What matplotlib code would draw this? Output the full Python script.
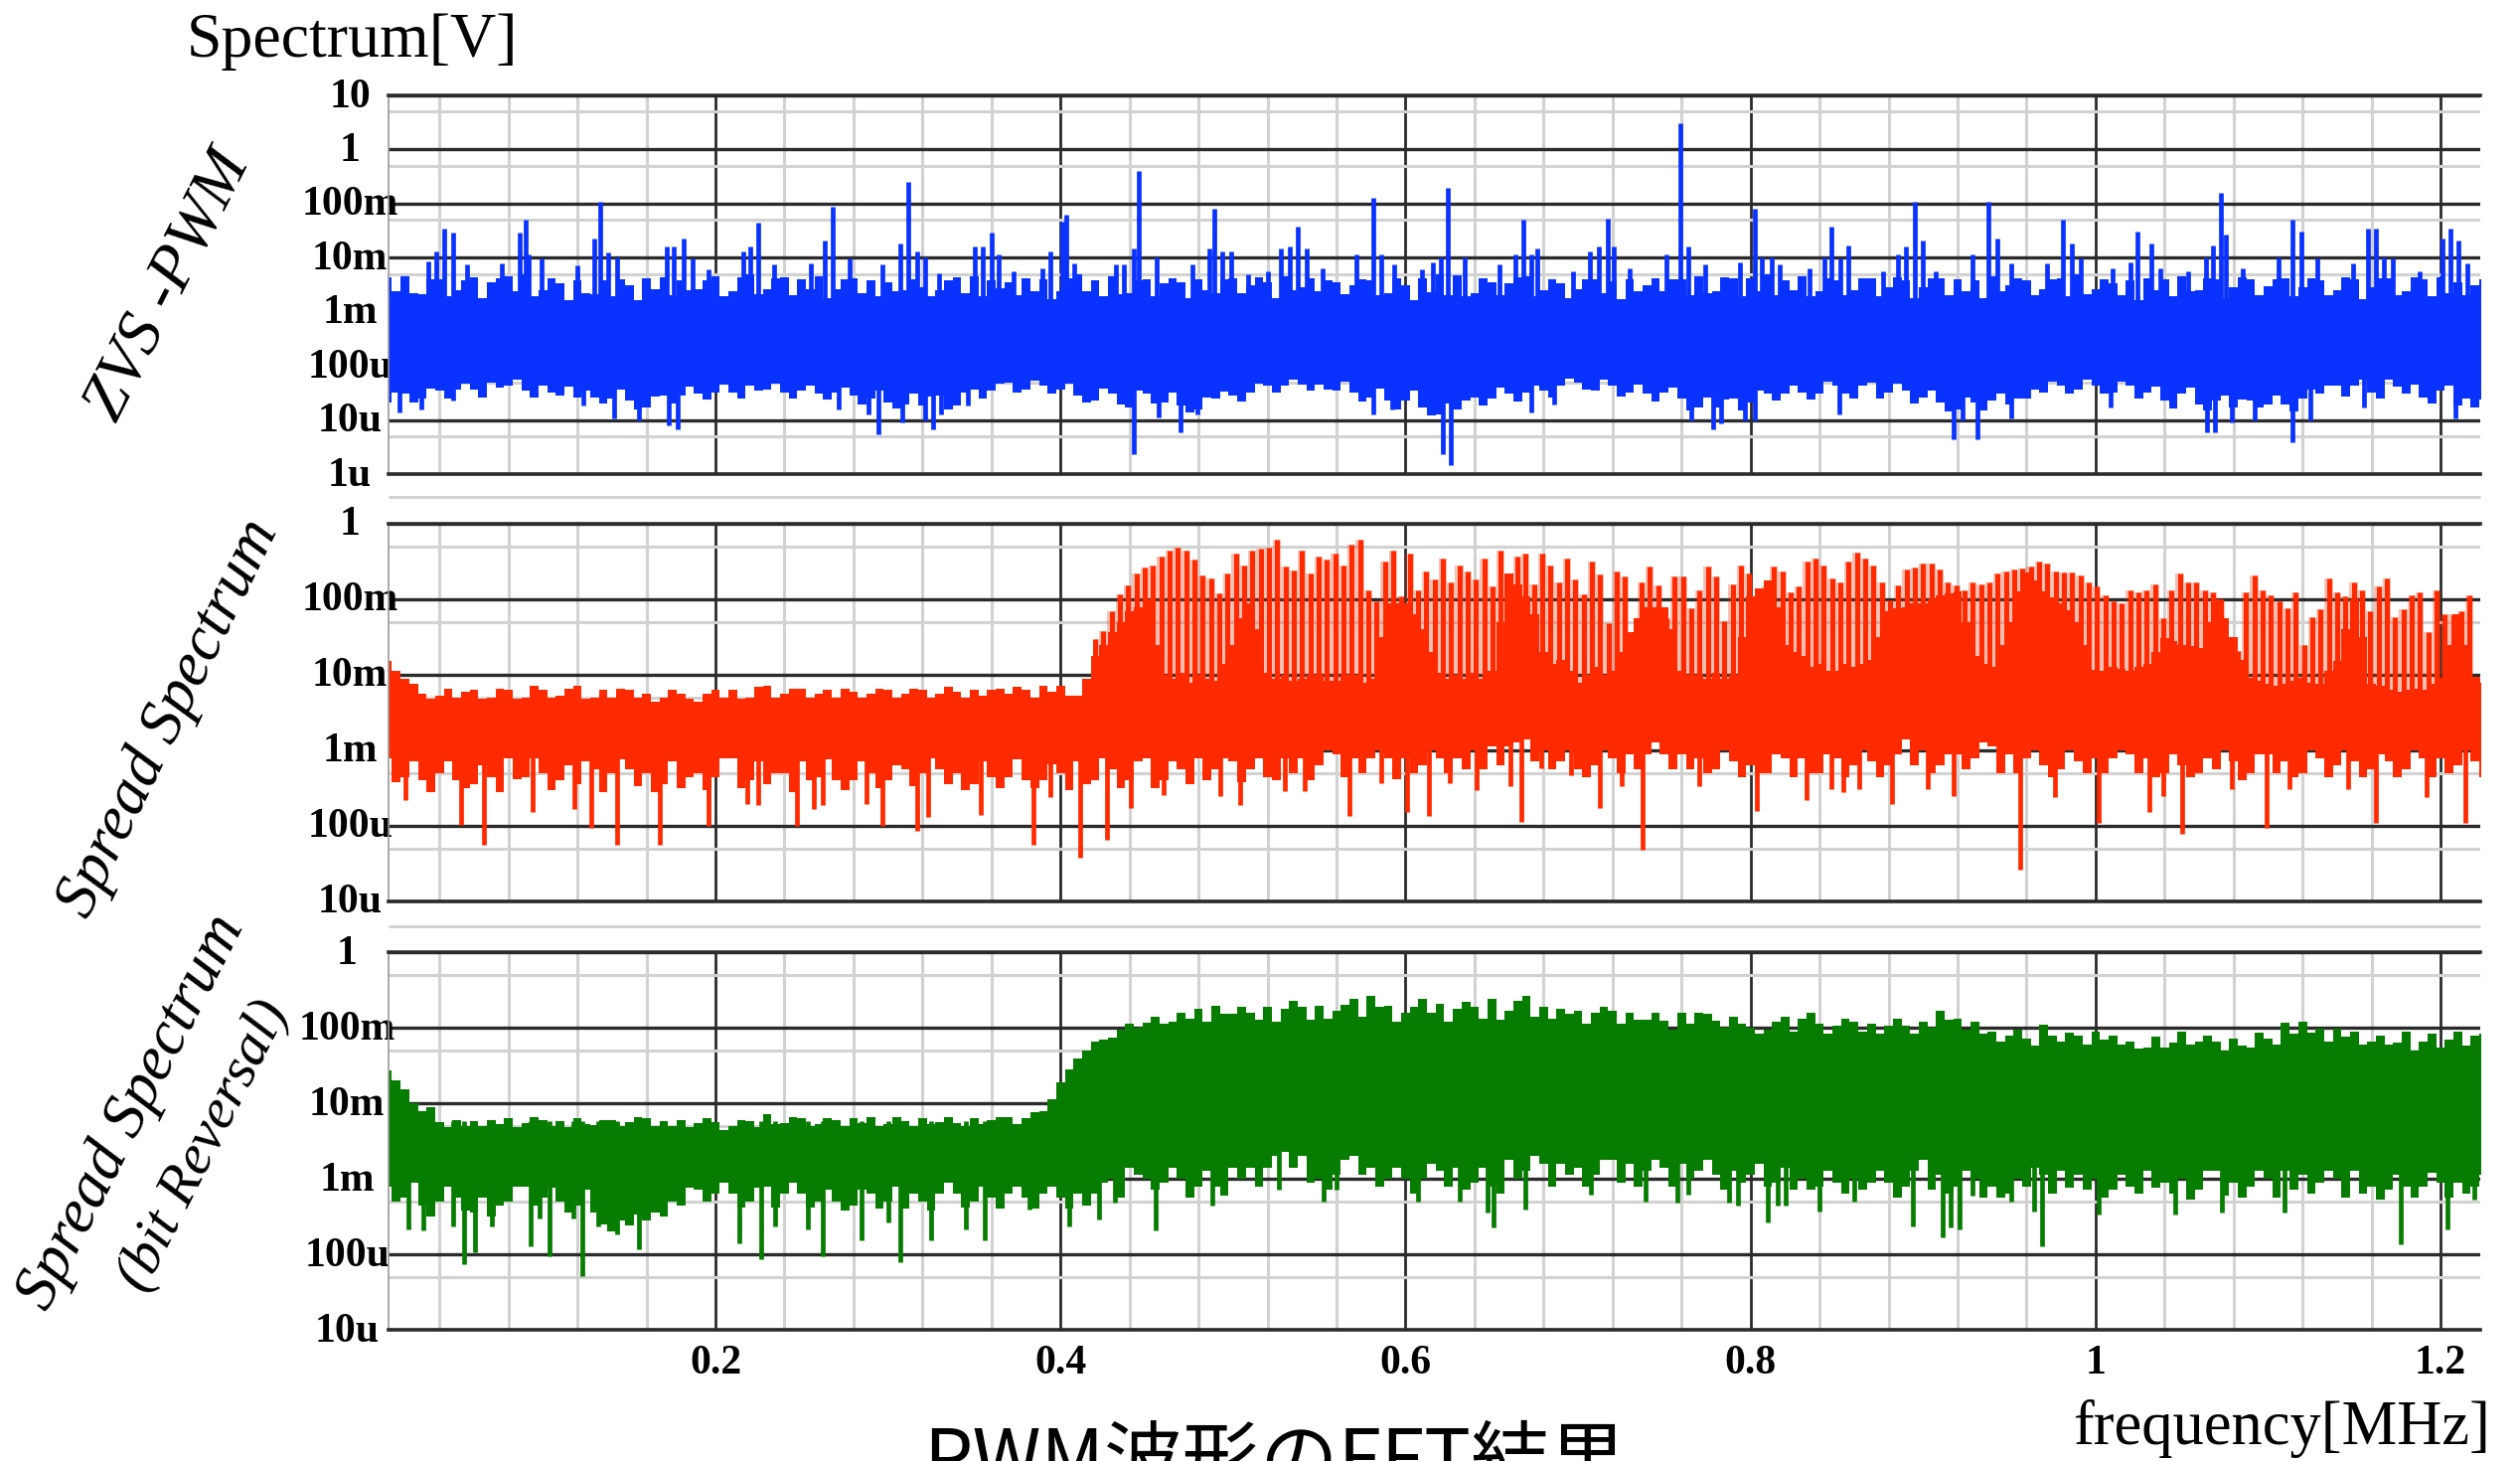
import matplotlib
matplotlib.use('Agg')
import matplotlib.pyplot as plt
import matplotlib.transforms as mtransforms
import numpy as np

# all levels are log10 of volts
bin_freq = np.arange(1, 123) / 100.0

zvs_top = [
    -2.37, -2.34, -2.68, -2.40, -2.60, -2.37, -2.45, -2.34, -2.30, -2.60,
    -2.47, -2.42, -2.68, -2.72, -2.50, -2.38, -2.36, -2.42, -2.58, -2.35,
    -2.62, -2.30, -2.58, -2.36, -2.40, -2.35, -2.58, -2.38, -2.42, -2.45,
    -2.60, -2.55, -2.60, -2.36, -2.35, -2.42, -2.45, -2.38, -2.40, -2.62,
    -2.30, -2.42, -2.34, -2.65, -2.40, -2.48, -2.45, -2.40, -2.66, -2.38,
    -2.50, -2.45, -2.35, -2.55, -2.62, -2.45, -2.50, -2.42, -2.65, -2.50,
    -2.38, -2.30, -2.32, -2.65, -2.45, -2.48, -2.35, -2.60, -2.48, -2.58,
    -2.40, -2.44, -2.40, -2.50, -2.62, -2.40, -2.35, -2.62, -2.38, -2.38,
    -2.30, -2.42, -2.35, -2.62, -2.42, -2.60, -2.38, -2.55, -2.42, -2.55,
    -2.38, -2.40, -2.42, -2.35, -2.50, -2.42, -2.58, -2.38, -2.30, -2.58,
    -2.48, -2.42, -2.38, -2.40, -2.35, -2.60, -2.40, -2.55, -2.40, -2.52,
    -2.38, -2.55, -2.42, -2.60, -2.40, -2.55, -2.38, -2.62, -2.40, -2.36,
    -2.45, -2.50,
]
zvs_top_mid = [
    -2.62, -2.66, -2.40, -2.72, -2.42, -2.75, -2.38, -2.62, -2.72, -2.38,
    -2.78, -2.66, -2.42, -2.40, -2.78, -2.58, -2.70, -2.60, -2.42, -2.72,
    -2.36, -2.68, -2.38, -2.70, -2.58, -2.74, -2.40, -2.66, -2.72, -2.62,
    -2.40, -2.72, -2.42, -2.66, -2.72, -2.56, -2.70, -2.62, -2.76, -2.38,
    -2.62, -2.72, -2.68, -2.42, -2.72, -2.38, -2.74, -2.60, -2.40, -2.66,
    -2.36, -2.74, -2.60, -2.38, -2.42, -2.68, -2.40, -2.70, -2.38, -2.78,
    -2.64, -2.70, -2.72, -2.38, -2.70, -2.36, -2.72, -2.40, -2.74, -2.40,
    -2.66, -2.76, -2.62, -2.38, -2.40, -2.70, -2.66, -2.36, -2.72, -2.62,
    -2.70, -2.60, -2.72, -2.38, -2.70, -2.38, -2.72, -2.36, -2.74, -2.38,
    -2.70, -2.62, -2.74, -2.62, -2.38, -2.70, -2.40, -2.72, -2.68, -2.40,
    -2.70, -2.78, -2.60, -2.72, -2.62, -2.38, -2.74, -2.36, -2.70, -2.40,
    -2.72, -2.38, -2.70, -2.36, -2.76, -2.38, -2.70, -2.36, -2.72, -2.66,
    -2.70, -2.40,
]
zvs_bottom = [
    -4.67, -4.52, -4.61, -4.46, -4.43, -4.43, -4.31, -4.37, -4.46, -4.37,
    -4.55, -4.58, -4.58, -4.61, -4.64, -4.77, -4.55, -4.55, -4.52, -4.49,
    -4.49, -4.37, -4.43, -4.49, -4.46, -4.52, -4.49, -4.55, -4.61, -4.67,
    -4.71, -4.74, -4.55, -4.74, -4.43, -4.46, -4.31, -4.43, -4.37, -4.43,
    -4.55, -4.64, -4.52, -4.77, -4.52, -4.67, -4.74, -4.80, -4.61, -4.55,
    -4.49, -4.37, -4.37, -4.34, -4.34, -4.46, -4.49, -4.58, -4.64, -4.64,
    -4.77, -4.89, -4.80, -4.58, -4.61, -4.52, -4.49, -4.46, -4.37, -4.31,
    -4.46, -4.37, -4.49, -4.52, -4.49, -4.61, -4.77, -4.77, -4.61, -4.67,
    -4.52, -4.52, -4.49, -4.52, -4.37, -4.61, -4.31, -4.49, -4.46, -4.58,
    -4.67, -4.80, -4.67, -4.64, -4.71, -4.61, -4.49, -4.37, -4.43, -4.37,
    -4.49, -4.37, -4.49, -4.64, -4.52, -4.71, -4.64, -4.77, -4.64, -4.71,
    -4.71, -4.61, -4.52, -4.37, -4.37, -4.49, -4.25, -4.52, -4.58, -4.46,
    -4.74, -4.77,
]
zvs_bottom_mid = [
    -4.50, -4.68, -4.42, -4.60, -4.32, -4.58, -4.40, -4.26, -4.58, -4.50,
    -4.38, -4.46, -4.70, -4.44, -4.80, -4.56, -4.70, -4.38, -4.62, -4.34,
    -4.60, -4.46, -4.32, -4.60, -4.36, -4.62, -4.40, -4.72, -4.46, -4.78,
    -4.52, -4.56, -4.80, -4.50, -4.60, -4.32, -4.50, -4.28, -4.52, -4.32,
    -4.68, -4.42, -4.72, -4.46, -4.70, -4.50, -4.86, -4.58, -4.48, -4.66,
    -4.32, -4.50, -4.26, -4.46, -4.44, -4.30, -4.66, -4.42, -4.80, -4.46,
    -4.92, -4.70, -4.64, -4.74, -4.40, -4.66, -4.36, -4.58, -4.24, -4.44,
    -4.26, -4.56, -4.34, -4.66, -4.40, -4.82, -4.58, -4.62, -4.82, -4.46,
    -4.64, -4.36, -4.62, -4.30, -4.52, -4.36, -4.60, -4.32, -4.70, -4.46,
    -4.84, -4.58, -4.82, -4.52, -4.60, -4.44, -4.30, -4.52, -4.26, -4.52,
    -4.30, -4.60, -4.38, -4.78, -4.40, -4.82, -4.54, -4.62, -4.76, -4.54,
    -4.84, -4.44, -4.36, -4.56, -4.26, -4.60, -4.38, -4.34, -4.70, -4.36,
    -4.60, -4.62,
]
zvs_peak_freq = [
    0.0336, 0.038, 0.0428, 0.048, 0.056, 0.0764, 0.0864, 0.0898, 0.0917, 0.099,
    0.120, 0.130, 0.1332, 0.138, 0.143, 0.172, 0.176, 0.1815, 0.187, 0.196,
    0.216, 0.220, 0.225, 0.234, 0.2555, 0.2634, 0.268, 0.278, 0.297, 0.307,
    0.312, 0.3168, 0.3215, 0.3295, 0.3506, 0.355, 0.360, 0.364, 0.373, 0.3894,
    0.394, 0.4008, 0.4034, 0.408, 0.4323, 0.437, 0.4424, 0.4456, 0.4556, 0.4763,
    0.486, 0.4893, 0.494, 0.4988, 0.5086, 0.5205, 0.5277, 0.533, 0.5375, 0.543,
    0.5518, 0.5714, 0.5815, 0.586, 0.5934, 0.6093, 0.616, 0.6207, 0.6246, 0.6344,
    0.6543, 0.6636, 0.6683, 0.673, 0.6763, 0.697, 0.7068, 0.7118, 0.717, 0.7205,
    0.7298, 0.751, 0.7595, 0.7637, 0.7735, 0.794, 0.8024, 0.8066, 0.8125, 0.817,
    0.834, 0.843, 0.847, 0.852, 0.8568, 0.877, 0.8857, 0.89, 0.8951, 0.8996,
    0.9075, 0.9285, 0.938, 0.943, 0.951, 0.972, 0.981, 0.9863, 0.9916, 1.01,
    1.0205, 1.0244, 1.0323, 1.0376, 1.0534, 1.0639, 1.0678, 1.0725, 1.0757, 1.0854,
    1.106, 1.1143, 1.1196, 1.1288, 1.1493, 1.1577, 1.1624, 1.167, 1.1724, 1.188,
    1.201, 1.2058, 1.2105, 1.2155,
]
zvs_peak_level = [
    -2.07, -1.88, -1.47, -1.53, -2.13, -2.10, -1.53, -1.30, -1.94, -2.02,
    -2.14, -1.64, -0.96, -1.90, -2.00, -1.79, -1.79, -1.64, -2.02, -2.22,
    -1.88, -1.79, -1.36, -2.13, -2.10, -1.68, -1.06, -2.02, -2.13, -1.74,
    -0.60, -1.88, -2.00, -2.28, -1.79, -1.79, -1.53, -1.94, -2.25, -2.19,
    -1.88, -1.33, -1.21, -2.10, -2.13, -2.13, -1.83, -0.39, -2.00, -2.13,
    -1.83, -1.10, -1.88, -1.88, -2.31, -2.25, -1.83, -1.79, -1.42, -1.83,
    -2.19, -1.94, -0.90, -1.94, -2.13, -2.22, -2.08, -2.00, -0.70, -2.00,
    -2.13, -1.94, -1.30, -1.94, -1.83, -2.25, -1.88, -1.79, -1.27, -1.79,
    -2.19, -1.94, 0.48, -1.79, -2.13, -2.08, -1.10, -2.00, -2.00, -2.13,
    -2.19, -2.00, -1.42, -2.02, -1.78, -2.25, -1.94, -1.79, -0.96, -1.68,
    -2.25, -1.94, -0.96, -1.64, -2.10, -2.10, -1.30, -1.73, -2.02, -2.19,
    -2.08, -1.52, -1.73, -2.19, -2.25, -2.00, -1.78, -0.80, -1.58, -2.19,
    -2.00, -1.30, -1.52, -2.02, -2.10, -1.47, -1.47, -2.00, -2.02, -2.25,
    -1.64, -1.47, -1.68, -2.10,
]
zvs_dip_freq = [
    0.0169, 0.0296, 0.048, 0.1234, 0.141, 0.1556, 0.173, 0.178, 0.2713, 0.2885,
    0.2943, 0.3083, 0.3215, 0.3263, 0.3308, 0.3466, 0.4424, 0.457, 0.4697, 0.4795,
    0.5815, 0.592, 0.6217, 0.6265, 0.6728, 0.686, 0.7656, 0.7783, 0.783, 0.797,
    0.8026, 0.8515, 0.9175, 0.9227, 0.9317, 0.951, 1.0087, 1.0647, 1.0691, 1.0788,
    1.092, 1.1143, 1.1243, 1.1558, 1.2084,
]
zvs_dip_level = [
    -4.86, -4.80, -4.64, -4.74, -4.97, -5.00, -5.10, -5.17, -4.80, -4.89,
    -5.27, -5.04, -5.00, -5.17, -4.89, -4.74, -5.63, -4.95, -5.23, -4.89,
    -4.89, -4.80, -5.63, -5.84, -4.86, -4.71, -5.01, -5.17, -5.07, -5.01,
    -5.01, -4.89, -5.35, -5.00, -5.35, -4.98, -4.77, -5.23, -5.23, -5.04,
    -5.00, -5.41, -5.00, -4.77, -4.98,
]

spread_top = [
    -1.82, -2.05, -2.25, -2.28, -2.30, -2.20, -2.30, -2.20, -2.30, -2.20,
    -2.28, -2.15, -2.30, -2.30, -2.20, -2.25, -2.30, -2.25, -2.35, -2.20,
    -2.20, -2.30, -2.15, -2.25, -2.18, -2.25, -2.30, -2.22, -2.25, -2.20,
    -2.25, -2.20, -2.25, -2.22, -2.20, -2.20, -2.25, -2.20, -2.15, -2.15,
    -2.28, -1.75, -1.44, -1.16, -1.00, -2.00, -1.98, -2.00, -2.08, -1.60,
    -1.05, -1.98, -2.00, -2.05, -2.00, -2.08, -2.00, -2.05, -1.05, -1.05,
    -1.40, -1.98, -2.00, -1.98, -1.95, -0.66, -0.96, -1.70, -1.80, -2.10,
    -1.90, -1.95, -1.44, -1.10, -1.10, -1.95, -2.00, -1.98, -2.00, -0.96,
    -0.75, -1.60, -1.75, -1.85, -1.95, -1.90, -1.80, -1.16, -1.10, -1.05,
    -0.95, -0.90, -1.75, -1.90, -1.30, -0.64, -0.90, -1.05, -1.30, -1.93,
    -1.90, -1.95, -1.85, -1.51, -1.60, -1.65, -1.00, -1.50, -2.04, -2.12,
    -2.12, -2.04, -2.12, -1.82, -1.00, -2.12, -2.20, -2.20, -2.20, -2.04,
    -1.20, -2.02,
]
spread_top_mid = [
    -1.95, -2.12, -2.32, -2.18, -2.22, -2.32, -2.18, -2.32, -2.15, -2.30,
    -2.18, -2.32, -2.20, -2.18, -2.30, -2.36, -2.20, -2.32, -2.25, -2.30,
    -2.32, -2.16, -2.30, -2.18, -2.30, -2.20, -2.18, -2.30, -2.18, -2.30,
    -2.18, -2.30, -2.16, -2.30, -2.28, -2.18, -2.16, -2.30, -2.22, -2.28,
    -2.05, -1.60, -1.30, -1.10, -1.60, -2.05, -2.10, -2.05, -1.85, -1.25,
    -1.40, -2.05, -2.08, -2.00, -2.08, -2.00, -2.10, -1.50, -1.05, -1.20,
    -1.70, -2.05, -2.05, -2.05, -1.30, -0.80, -1.20, -1.85, -1.95, -2.00,
    -2.00, -1.70, -1.25, -1.10, -1.40, -2.00, -2.05, -2.05, -1.50, -0.85,
    -1.10, -1.70, -1.90, -1.95, -1.85, -1.85, -1.50, -1.12, -1.05, -1.00,
    -0.92, -1.30, -1.85, -1.60, -0.90, -0.75, -0.98, -1.15, -1.60, -1.95,
    -1.92, -1.90, -1.70, -1.55, -1.62, -1.30, -1.25, -1.80, -2.08, -2.15,
    -2.08, -2.10, -1.95, -1.40, -1.50, -2.15, -2.22, -2.18, -2.12, -1.60,
    -1.60, -2.10,
]
spread_bottom = [
    -3.10, -3.35, -3.40, -3.30, -3.40, -3.45, -3.35, -3.10, -3.35, -3.30,
    -3.40, -3.45, -3.25, -3.30, -3.25, -3.30, -3.45, -3.50, -3.30, -3.35,
    -3.10, -3.40, -3.45, -3.30, -3.15, -3.35, -3.40, -3.40, -3.30, -3.40,
    -3.25, -3.30, -3.25, -3.30, -3.45, -3.35, -3.35, -3.40, -3.40, -3.30,
    -3.15, -3.40, -3.25, -3.40, -3.10, -3.40, -3.25, -3.10, -3.25, -3.15,
    -3.25, -3.35, -3.10, -3.10, -3.20, -3.05, -3.10, -3.10, -3.10, -3.10,
    -3.20, -3.10, -3.10, -3.00, -2.95, -2.95, -2.85, -3.00, -3.15, -3.25,
    -3.20, -3.10, -3.05, -3.05, -3.05, -3.05, -3.10, -3.25, -3.15, -3.20,
    -3.30, -3.10, -3.10, -3.30, -3.10, -3.20, -3.15, -3.20, -2.85, -3.00,
    -3.20, -3.05, -3.10, -2.95, -3.05, -3.10, -3.20, -3.25, -3.15, -3.10,
    -3.10, -3.05, -3.10, -3.30, -3.20, -3.30, -3.25, -3.15, -3.30, -3.05,
    -3.15, -3.30, -3.10, -3.20, -3.15, -3.25, -3.15, -3.25, -3.10, -3.10,
    -3.20, -3.15,
]
spread_bottom_mid = [
    -3.42, -3.15, -3.55, -3.15, -3.50, -3.20, -3.55, -3.38, -3.10, -3.52,
    -3.20, -3.15, -3.55, -3.12, -3.48, -3.55, -3.15, -3.35, -3.52, -3.10,
    -3.50, -3.15, -3.30, -3.55, -3.40, -3.12, -3.52, -3.15, -3.50, -3.20,
    -3.48, -3.10, -3.45, -3.52, -3.15, -3.50, -3.12, -3.50, -3.18, -3.52,
    -3.45, -3.10, -3.50, -3.15, -3.50, -3.15, -3.45, -3.40, -3.10, -3.42,
    -3.10, -3.40, -3.30, -3.40, -3.00, -3.35, -3.30, -3.00, -3.38, -3.30,
    -3.00, -3.30, -3.25, -3.25, -3.20, -2.90, -3.15, -3.25, -3.00, -3.35,
    -3.00, -3.30, -3.25, -2.90, -3.25, -3.25, -3.30, -3.00, -3.35, -3.30,
    -3.05, -3.35, -3.30, -3.05, -3.35, -3.00, -3.35, -3.05, -3.20, -3.30,
    -3.05, -3.25, -2.90, -3.30, -3.30, -3.00, -3.35, -3.00, -3.30, -3.30,
    -3.00, -3.30, -3.35, -3.05, -3.35, -3.10, -3.00, -3.40, -3.05, -3.30,
    -3.35, -3.00, -3.35, -3.00, -3.35, -3.05, -3.35, -3.00, -3.35, -3.30,
    -3.00, -3.35,
]
spread_comb_start = 0.42
spread_comb_step = 0.0048
spread_comb_top = [
    -1.53, -1.42, -1.16, -0.94, -0.81, -0.66, -0.58, -0.55, -0.43, -0.35,
    -0.32, -0.35, -0.47, -0.69, -0.72, -0.92, -0.66, -0.39, -0.55, -0.35,
    -0.33, -0.32, -0.21, -0.57, -0.62, -0.35, -0.66, -0.43, -0.48, -0.39,
    -0.55, -0.28, -0.21, -0.88, -1.03, -0.50, -0.35, -0.96, -0.39, -0.88,
    -0.63, -0.74, -0.46, -0.77, -0.55, -0.63, -0.74, -0.46, -0.83, -0.35,
    -0.68, -0.43, -0.39, -0.80, -0.39, -0.55, -0.77, -0.46, -0.74, -0.94,
    -0.50, -0.67, -1.31, -0.63, -0.70, -1.44, -0.77, -0.57, -0.81, -1.25,
    -0.70, -0.70, -1.12, -0.88, -0.57, -0.70, -1.29, -0.80, -0.55, -0.66,
    -1.25, -0.83, -0.57, -0.63,
    -0.91, -0.83, -0.50, -0.46, -0.55, -0.72, -0.77, -0.50, -0.38, -0.46,
    -0.55, -0.77, -1.01, -0.81, -0.61, -0.58, -0.53, -0.53, -0.61, -0.77,
    -0.81, -0.88, -0.77, -0.80, -0.77, -0.66, -0.63, -0.61, -0.59, -0.57,
    -0.50, -0.53, -0.63, -0.64, -0.64, -0.69, -0.77, -0.83, -0.95, -1.03,
    -1.05, -0.88, -0.91, -0.88, -0.80, -1.25, -0.88, -0.66, -0.77, -0.77,
    -0.88, -0.91, -1.00, -1.51, -1.69, -0.91, -0.69, -0.88, -0.95, -1.03,
    -1.12, -0.91, -1.61, -1.24, -1.13, -0.73, -0.91, -0.96, -0.77, -0.88,
    -1.16, -0.83, -0.73, -1.24, -1.13, -0.95, -0.91, -1.43, -0.88, -1.20,
    -1.20, -1.16, -0.95, -2.02,
]
spread_dip_freq = [
    0.0203, 0.0526, 0.0658, 0.0943, 0.118, 0.128, 0.1427, 0.168, 0.196, 0.2185,
    0.225, 0.247, 0.2568, 0.262, 0.2877, 0.297, 0.3168, 0.323, 0.3538, 0.3844,
    0.394, 0.4114, 0.427, 0.441, 0.4596, 0.4925, 0.504, 0.53, 0.5415, 0.5674,
    0.586, 0.601, 0.6138, 0.6255, 0.641, 0.661, 0.667, 0.6784, 0.696, 0.7128,
    0.7254, 0.7377, 0.77, 0.8038, 0.8326, 0.847, 0.8536, 0.8628, 0.882, 0.903,
    0.9175, 0.9561, 0.9763, 1.002, 1.031, 1.039, 1.05, 1.079, 1.0993, 1.1125,
    1.1466, 1.1624, 1.1919, 1.2142,
]
spread_dip_level = [
    -3.66, -3.99, -4.25, -3.82, -3.77, -4.03, -4.25, -4.25, -4.00, -3.71,
    -3.73, -4.00, -3.77, -3.73, -3.71, -4.00, -4.06, -3.88, -3.85, -4.25,
    -3.62, -4.42, -4.18, -3.76, -3.59, -3.61, -3.73, -3.54, -3.54, -3.87,
    -3.44, -3.81, -3.87, -3.44, -3.52, -3.48, -3.95, -3.24, -3.33, -3.76,
    -3.48, -4.32, -3.48, -3.80, -3.66, -3.51, -3.55, -3.51, -3.71, -3.51,
    -3.60, -4.58, -3.62, -3.96, -3.82, -3.60, -4.10, -3.51, -4.03, -3.51,
    -3.51, -3.96, -3.62, -3.96,
]

reversal_top = [
    -1.57, -1.81, -2.11, -2.25, -2.22, -2.24, -2.22, -2.20, -2.26, -2.23,
    -2.24, -2.20, -2.29, -2.22, -2.25, -2.20, -2.24, -2.23, -2.26, -2.25,
    -2.30, -2.24, -2.15, -2.26, -2.20, -2.28, -2.22, -2.20, -2.18, -2.27,
    -2.24, -2.20, -2.25, -2.26, -2.20, -2.22, -2.18, -2.20, -2.10, -1.72,
    -1.41, -1.19, -1.13, -0.95, -0.93, -0.95, -0.80, -0.75, -0.71, -0.82,
    -0.80, -0.73, -0.75, -0.73, -0.71, -0.78, -0.62, -0.58, -0.71, -0.80,
    -0.62, -0.69, -0.75, -0.73, -0.62, -0.78, -0.58, -0.73, -0.75, -0.78,
    -0.80, -0.78, -0.80, -0.89, -0.91, -0.80, -0.80, -0.91, -0.86, -1.00,
    -1.02, -0.86, -0.88, -0.95, -0.98, -0.92, -0.95, -0.98, -0.97, -0.92,
    -0.77, -0.88, -0.92, -1.05, -1.10, -1.14, -0.96, -1.18, -1.10, -1.05,
    -1.10, -1.18, -1.26, -1.26, -1.05, -1.18, -1.18, -1.14, -1.26, -1.14,
    -0.94, -0.92, -1.01, -1.01, -1.05, -1.18, -1.23, -1.05, -1.18, -1.26,
    -1.05, -1.10,
]
reversal_top_mid = [
    -1.70, -2.00, -2.05, -2.32, -2.30, -2.30, -2.28, -2.32, -2.18, -2.30,
    -2.32, -2.28, -2.22, -2.30, -2.18, -2.30, -2.30, -2.32, -2.20, -2.35,
    -2.22, -2.32, -2.28, -2.18, -2.30, -2.20, -2.30, -2.26, -2.30, -2.18,
    -2.30, -2.28, -2.18, -2.30, -2.28, -2.18, -2.28, -2.12, -1.95, -1.55,
    -1.30, -1.16, -1.02, -1.00, -0.85, -0.92, -0.88, -0.92, -0.82, -0.72,
    -0.90, -0.92, -0.65, -0.90, -0.88, -0.70, -0.85, -0.72, -0.92, -0.72,
    -0.80, -0.92, -0.66, -0.88, -0.90, -0.65, -0.85, -0.88, -0.82, -0.95,
    -0.72, -0.95, -0.90, -0.80, -1.02, -0.95, -0.82, -1.00, -0.95, -1.08,
    -0.92, -1.05, -0.80, -1.08, -0.88, -1.05, -1.08, -0.88, -1.08, -1.00,
    -0.90, -1.02, -1.08, -1.18, -1.02, -1.24, -1.10, -1.06, -1.22, -1.16,
    -1.22, -1.28, -1.12, -1.20, -1.22, -1.10, -1.30, -1.24, -1.06, -1.22,
    -1.08, -1.06, -1.18, -1.12, -1.22, -1.10, -1.20, -1.30, -1.08, -1.16,
    -1.24, -1.08,
]
reversal_bottom = [
    -3.10, -3.25, -3.35, -3.30, -3.25, -3.45, -3.50, -3.30, -3.10, -3.25,
    -3.30, -3.35, -3.45, -3.70, -3.62, -3.55, -3.50, -3.35, -3.15, -3.20,
    -3.20, -3.30, -3.10, -3.20, -3.20, -3.30, -3.30, -3.35, -3.20, -3.30,
    -3.40, -3.30, -3.20, -3.20, -3.30, -3.25, -3.20, -3.25, -3.20, -3.25,
    -3.20, -3.20, -3.00, -2.85, -3.00, -3.05, -3.00, -3.10, -3.10, -2.85,
    -2.85, -2.85, -2.65, -2.70, -3.00, -2.95, -2.70, -2.85, -3.00, -3.00,
    -3.00, -2.90, -2.85, -3.05, -3.10, -2.75, -2.90, -2.80, -2.80, -2.85,
    -2.95, -2.75, -2.80, -2.90, -2.85, -2.80, -2.90, -2.95, -2.90, -2.95,
    -3.10, -2.85, -3.00, -3.10, -3.05, -3.00, -3.05, -3.05, -3.10, -2.75,
    -2.95, -3.10, -3.00, -3.10, -3.20, -3.10, -2.95, -2.90, -2.95, -3.00,
    -3.15, -3.10, -2.90, -3.05, -3.00, -3.15, -2.90, -3.05, -3.10, -3.00,
    -2.90, -2.95, -3.05, -3.00, -2.90, -3.10, -3.15, -3.10, -3.10, -3.05,
    -3.05, -3.10,
]
reversal_bottom_mid = [
    -3.30, -3.05, -3.50, -3.10, -3.42, -3.25, -3.35, -3.10, -3.35, -3.12,
    -3.45, -3.15, -3.60, -3.55, -3.48, -3.45, -3.30, -3.12, -3.30, -3.05,
    -3.38, -3.12, -3.38, -3.05, -3.38, -3.15, -3.42, -3.15, -3.40, -3.10,
    -3.20, -3.42, -3.05, -3.38, -3.10, -3.40, -3.10, -3.40, -3.10, -3.40,
    -3.35, -3.05, -3.25, -2.95, -3.15, -2.85, -3.25, -2.90, -3.22, -3.00,
    -3.10, -2.70, -2.85, -3.05, -3.15, -2.75, -2.95, -3.10, -2.85, -3.20,
    -2.80, -3.10, -3.15, -2.85, -3.20, -3.00, -2.70, -3.10, -2.95, -3.10,
    -2.75, -3.05, -3.10, -2.75, -3.10, -3.00, -2.75, -3.15, -3.05, -2.80,
    -3.05, -3.15, -3.15, -2.90, -3.20, -3.15, -2.90, -3.25, -2.90, -3.15,
    -3.20, -2.90, -3.25, -3.25, -3.00, -2.85, -3.20, -3.12, -3.15, -3.25,
    -2.95, -3.20, -3.12, -3.20, -3.28, -2.90, -3.22, -3.25, -2.90, -3.25,
    -3.15, -3.20, -2.90, -3.25, -3.20, -3.28, -2.95, -3.25, -2.92, -3.25,
    -3.20, -2.95,
]
reversal_dip_freq = [
    0.0222, 0.0304, 0.048, 0.0542, 0.0608, 0.0705, 0.093, 0.0983, 0.104, 0.1176,
    0.1226, 0.1318, 0.1432, 0.1559, 0.214, 0.2264, 0.2343, 0.2536, 0.262, 0.2845,
    0.3004, 0.307, 0.325, 0.3453, 0.3559, 0.3818, 0.4048, 0.4225, 0.4313, 0.4551,
    0.488, 0.5266, 0.5523, 0.5603, 0.6072, 0.6313, 0.6477, 0.6509, 0.6697, 0.7073,
    0.7391, 0.7576, 0.7637, 0.7873, 0.7926, 0.8101, 0.8159, 0.8204, 0.84, 0.86,
    0.8941, 0.9115, 0.9161, 0.9212, 0.9289, 0.9509, 0.9643, 0.9689, 1.0019, 1.0459,
    1.073, 1.1096, 1.1768, 1.2042, 1.2197,
]
reversal_dip_level = [
    -3.67, -3.69, -3.63, -4.13, -3.98, -3.63, -3.89, -3.52, -4.02, -3.52,
    -4.29, -3.63, -3.74, -3.93, -3.85, -4.07, -3.63, -3.67, -4.02, -3.82,
    -3.58, -4.11, -3.82, -3.67, -3.82, -3.41, -3.63, -3.54, -3.32, -3.69,
    -3.36, -3.14, -3.30, -3.14, -3.30, -3.30, -3.45, -3.65, -3.41, -3.21,
    -3.30, -3.32, -3.21, -3.32, -3.36, -3.58, -3.36, -3.36, -3.43, -3.30,
    -3.63, -3.78, -3.64, -3.67, -3.23, -3.30, -3.43, -3.89, -3.48, -3.48,
    -3.45, -3.45, -3.87, -3.67, -3.28,
]

x_major_ticks = [0.2, 0.4, 0.6, 0.8, 1.0, 1.2]
x_tick_labels = ["0.2", "0.4", "0.6", "0.8", "1", "1.2"]
x_minor_ticks = [0.04, 0.08, 0.12, 0.16, 0.24, 0.28, 0.32, 0.36, 0.44, 0.48,
                 0.52, 0.56, 0.64, 0.68, 0.72, 0.76, 0.84, 0.88, 0.92, 0.96,
                 1.04, 1.08, 1.12, 1.16]
zvs_ticks = [10, 1, 0.1, 0.01, 1e-3, 1e-4, 1e-5, 1e-6]
zvs_tick_labels = ["10", "1", "100m", "10m", "1m", "100u", "10u", "1u"]
spread_ticks = [1, 0.1, 0.01, 1e-3, 1e-4, 1e-5]
spread_tick_labels = ["1", "100m", "10m", "1m", "100u", "10u"]

W, H = 2536, 1470
LEFT, RIGHT = 391, 2496
X_MIN, X_MAX = 0.0105, 1.2230
SERIF = "Liberation Serif"
DARK = "#2b2b2b"
LIGHT = "#d2d2d2"
RED = "#ff2a00"


def MakeAxes(fig, top_px, bottom_px):
    return fig.add_axes([LEFT / W, 1 - bottom_px / H, (RIGHT - LEFT) / W, (bottom_px - top_px) / H])


def DrawFrame(ax, yticks, ylabels, pad, show_x, under_line=None):
    ax.set_yscale("log")
    ax.set_xlim(X_MIN, X_MAX)
    ax.set_ylim(yticks[-1], yticks[0])
    ax.set_xticks(x_major_ticks)
    ax.set_xticks(x_minor_ticks, minor=True)
    ax.set_yticks(yticks)
    ax.set_yticks([t * 0.5 for t in yticks[:-1]], minor=True)
    ax.set_yticklabels(ylabels, fontfamily=SERIF, fontweight="bold", fontsize=30, ha="center")
    ax.tick_params(axis="both", which="both", length=0)
    ax.tick_params(axis="y", which="major", pad=pad)
    ax.tick_params(axis="y", which="minor", labelleft=False)
    ax.tick_params(axis="x", which="minor", labelbottom=False)
    if show_x:
        ax.set_xticklabels(x_tick_labels, fontfamily=SERIF, fontweight="bold", fontsize=30)
        ax.tick_params(axis="x", which="major", pad=11)
    else:
        ax.tick_params(axis="x", which="major", labelbottom=False)
    shift = mtransforms.ScaledTranslation(0, 3 / 100.0, ax.figure.dpi_scale_trans)
    for label in ax.get_yticklabels():
        label.set_transform(label.get_transform() + shift)

    ax.grid(True, which="minor", color=LIGHT, linewidth=2.2)
    ax.grid(True, which="major", axis="x", color=DARK, linewidth=2.0)
    ax.grid(True, which="major", axis="y", color=DARK, linewidth=2.4)
    ax.set_axisbelow(True)
    for side in ["top", "bottom"]:
        ax.spines[side].set_color(DARK)
        ax.spines[side].set_linewidth(2.6)
    ax.spines["right"].set_visible(False)
    ax.spines["left"].set_color("#9a9a9a")
    ax.spines["left"].set_linewidth(1.2)
    if under_line is not None:
        ax.hlines(under_line, X_MIN, X_MAX, color=LIGHT, linewidth=2.2, clip_on=False)


def DrawSpectrum(ax, color, top, top_mid, bottom, bottom_mid, peak_f=None, peak_v=None, dip_f=None, dip_v=None):
    # every bin edge gets a reading at the bin and one half a bin later
    freq = np.column_stack([bin_freq, bin_freq + 0.005]).ravel()
    upper = np.column_stack([top, top_mid]).ravel()
    lower = np.column_stack([bottom, bottom_mid]).ravel()
    ax.fill_between(freq, 10.0 ** lower, 10.0 ** upper, step="mid", color=color, linewidth=0)
    middle = 10.0 ** ((upper + lower) / 2).mean()
    if peak_f is not None:
        ax.vlines(peak_f, middle, 10.0 ** np.array(peak_v), color=color, linewidth=3.4)
    if dip_f is not None:
        ax.vlines(dip_f, 10.0 ** np.array(dip_v), middle, color=color, linewidth=3.4)


def main():
    fig = plt.figure(figsize=(W / 100.0, H / 100.0), dpi=100)

    ax1 = MakeAxes(fig, 96, 477)
    DrawFrame(ax1, zvs_ticks, zvs_tick_labels, 28, False, under_line=10.0 ** -6.43)
    DrawSpectrum(ax1, "#0a32ff", zvs_top, zvs_top_mid, zvs_bottom, zvs_bottom_mid,
                 zvs_peak_freq, zvs_peak_level, zvs_dip_freq, zvs_dip_level)

    ax2 = MakeAxes(fig, 527, 907)
    DrawFrame(ax2, spread_ticks, spread_tick_labels, 28, False, under_line=10.0 ** -5.33)
    comb_freq = spread_comb_start + spread_comb_step * np.arange(len(spread_comb_top))
    comb_top = 10.0 ** np.array(spread_comb_top)
    # the gaps of the comb read as pink, not white
    ax2.fill_between(comb_freq, 10.0 ** -2.4, comb_top, step="mid", color=RED, alpha=0.3, linewidth=0)
    DrawSpectrum(ax2, RED, spread_top, spread_top_mid, spread_bottom, spread_bottom_mid,
                 None, None, spread_dip_freq, spread_dip_level)
    ax2.vlines(comb_freq, 10.0 ** -2.4, comb_top, color=RED, linewidth=3.6)

    ax3 = MakeAxes(fig, 958, 1338)
    DrawFrame(ax3, spread_ticks, spread_tick_labels, 30, True)
    DrawSpectrum(ax3, "#067d00", reversal_top, reversal_top_mid, reversal_bottom, reversal_bottom_mid,
                 None, None, reversal_dip_freq, reversal_dip_level)

    fig.text(355 / W, 1 - 57 / H, "Spectrum[V]", family=SERIF, fontsize=46, ha="center", va="baseline")
    fig.text(2296 / W, 1 - 1453 / H, "frequency[MHz]", family=SERIF, fontsize=45, ha="center", va="baseline")
    fig.text(170 / W, 1 - 288 / H, "ZVS -PWM", family=SERIF, style="italic", fontsize=47,
             rotation=63, ha="center", va="center")
    fig.text(170 / W, 1 - 723 / H, "Spread Spectrum", family=SERIF, style="italic", fontsize=46,
             rotation=64, ha="center", va="center")
    fig.text(133 / W, 1 - 1119 / H, "Spread Spectrum", family=SERIF, style="italic", fontsize=46,
             rotation=63, ha="center", va="center")
    fig.text(205 / W, 1 - 1153 / H, "(bit Reversal)", family=SERIF, style="italic", fontsize=42,
             rotation=63, ha="center", va="center")
    fig.text(1283 / W, 1 - 1494 / H, "PWM波形のFFT結果", family=["Noto Sans CJK JP", "DejaVu Sans"],
             fontsize=56.5, ha="center", va="baseline")

    fig.savefig("out.png", dpi=100)
    return 0


if __name__ == "__main__":
    main()
